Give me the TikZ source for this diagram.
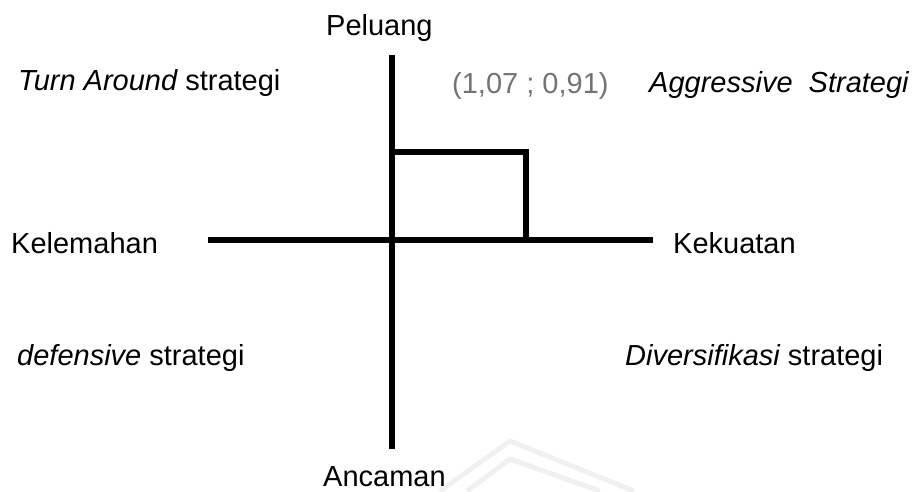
\documentclass[tikz,border=0pt]{standalone}
\usepackage{fontspec}
\setmainfont{Liberation Sans}
\begin{document}
\begin{tikzpicture}[x=1pt,y=-1pt,
  lbl/.style={anchor=base west,inner sep=0pt,font=\fontsize{29}{34}\selectfont},
  coordlbl/.style={anchor=base west,inner sep=0pt,text=black!55,font=\fontsize{29}{34}\selectfont},
  axis/.style={line width=6pt,line cap=butt},
  mark line/.style={line width=6pt,line cap=rect,line join=miter},
  faint/.style={line width=5pt,draw=black!6}]
\useasboundingbox (0,0) rectangle (920,491);

% faint background emblem
\draw[faint] (440,491) -- (510,441) -- (634,491);
\draw[faint] (467,491) -- (510,459) -- (600,491);

% axis end points
\coordinate (axtop) at (392,55);
\coordinate (axbot) at (392,449);
\coordinate (axleft) at (208,240);
\coordinate (axright) at (653,240);
\coordinate (ptl) at (392,152);
\coordinate (ptr) at (526,152);
\coordinate (ptb) at (526,240);

% axes
\draw[axis] (axtop) -- (axbot);
\draw[axis] (axleft) -- (axright);

% position box
\draw[mark line] (ptl) -- (ptr) -- (ptb);

% axis labels
\node[lbl] (peluang) at (326,35) {Peluang};
\node[lbl] (ancaman) at (323,486) {Ancaman};
\node[lbl] (kelemahan) at (11,253) {Kelemahan};
\node[lbl] (kekuatan) at (673,253) {Kekuatan};

% quadrant labels
\node[lbl] (turn) at (18,90) {\itshape Turn Around\upshape{} strategi};
\node[lbl] (aggr) at (649,92) {\itshape Aggressive\ \ Strategi};
\node[lbl] (def) at (17,365) {\itshape defensive\upshape{} strategi};
\node[lbl] (div) at (625,365) {\itshape Diversifikasi\upshape{} strategi};

% coordinate value
\node[coordlbl] (val) at (452,93) {(1,07 ; 0,91)};
\end{tikzpicture}
\end{document}
